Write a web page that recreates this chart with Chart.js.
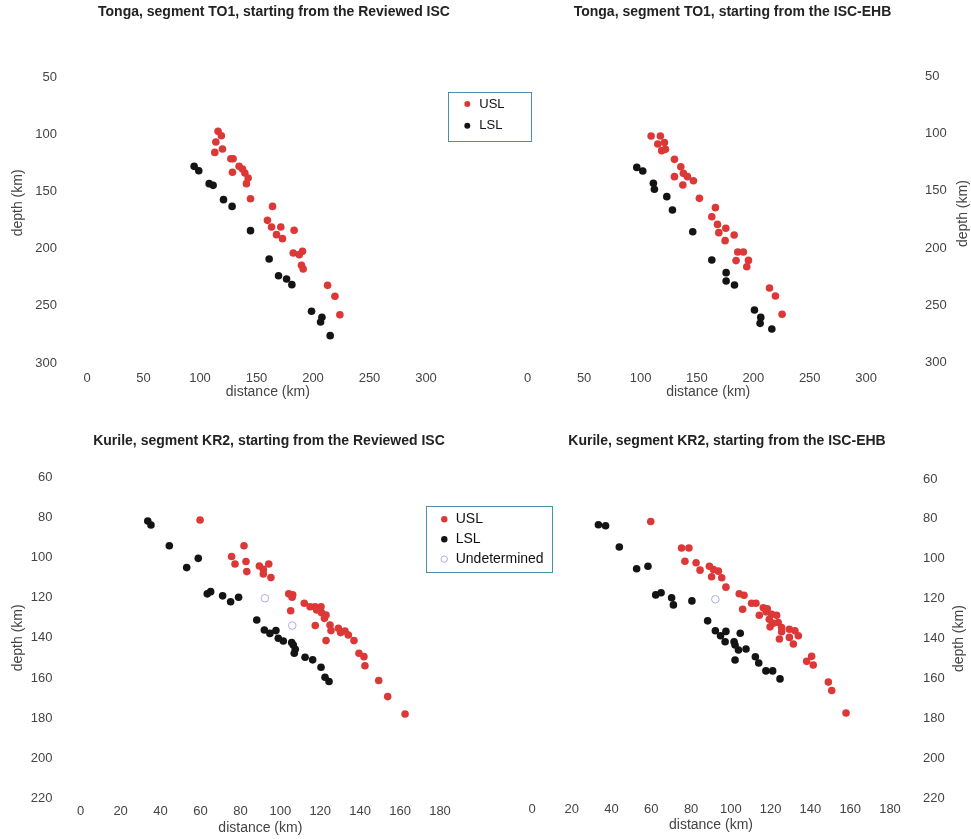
<!DOCTYPE html>
<html>
<head>
<meta charset="utf-8">
<title>Slab seismicity cross-sections</title>
<script src="https://cdn.jsdelivr.net/npm/chart.js@4.4.1/dist/chart.umd.min.js"></script>
<style>
  html, body { margin: 0; padding: 0; background: #ffffff; }
  #wrap { position: relative; width: 971px; height: 839px; overflow: hidden; background: #ffffff; }
  #wrap canvas { position: absolute; left: 0; top: 0; }
</style>
</head>
<body>
<div id="wrap">
  <canvas id="tongaReviewed" width="971" height="839"></canvas>
  <canvas id="tongaEhb" width="971" height="839"></canvas>
  <canvas id="kurileReviewed" width="971" height="839"></canvas>
  <canvas id="kurileEhb" width="971" height="839"></canvas>
</div>
<script>
// ---- tick labels ----
const tongaDistanceTicks = [0, 50, 100, 150, 200, 250, 300];
const tongaDepthTicks = [50, 100, 150, 200, 250, 300];
const kurileDistanceTicks = [0, 20, 40, 60, 80, 100, 120, 140, 160, 180];
const kurileDepthTicks = [60, 80, 100, 120, 140, 160, 180, 200, 220];

// ---- Tonga TO1, Reviewed ISC: [distance km, depth km] ----
const tongaReviewedUSL = [
  [116.0, 97.5], [118.9, 101.3], [114.0, 106.8], [119.9, 112.9], [113.1, 115.9],
  [127.3, 121.4], [129.3, 121.4], [128.7, 133.3], [134.6, 128.1], [137.6, 130.4],
  [139.7, 133.9], [142.6, 138.3], [141.1, 143.2], [144.7, 156.4], [164.2, 163.1],
  [159.7, 175.3], [163.3, 181.1], [171.5, 181.1], [183.3, 184.0], [167.7, 187.8],
  [173.0, 191.3], [182.5, 203.8], [187.8, 205.3], [190.7, 202.4], [189.8, 214.6],
  [191.3, 217.8], [212.9, 232.1], [219.4, 241.7], [223.8, 257.8]
];
const tongaReviewedLSL = [
  [94.8, 128.1], [98.9, 131.9], [108.1, 143.2], [111.6, 144.7], [120.8, 157.2],
  [128.4, 163.1], [144.7, 184.3], [161.2, 209.1], [169.5, 223.7], [176.6, 226.6],
  [181.3, 231.5], [198.7, 254.8], [207.9, 260.1], [206.7, 264.2], [215.2, 276.1]
];

// ---- Tonga TO1, ISC-EHB ----
const tongaEhbUSL = [
  [109.4, 102.3], [117.6, 102.3], [115.3, 109.3], [121.2, 108.1], [118.8, 115.1],
  [122.1, 114.0], [130.1, 122.7], [135.7, 129.1], [130.1, 137.8], [138.0, 134.9],
  [141.6, 137.8], [146.9, 141.3], [137.5, 145.1], [152.2, 156.7], [166.4, 164.8],
  [163.2, 172.7], [168.2, 179.4], [175.6, 182.8], [169.4, 186.6], [183.0, 188.7],
  [175.0, 193.6], [186.2, 203.5], [191.2, 203.5], [184.7, 211.0], [195.7, 210.8],
  [194.2, 216.3], [214.3, 234.9], [219.6, 241.9], [225.5, 257.8]
];
const tongaEhbLSL = [
  [96.7, 129.7], [102.0, 132.8], [111.4, 143.6], [112.3, 148.8], [123.3, 155.2],
  [128.3, 166.9], [146.3, 185.8], [163.2, 210.5], [175.9, 221.5], [175.9, 228.8],
  [183.3, 232.3], [201.0, 254.1], [206.6, 260.5], [206.0, 265.7], [216.4, 270.6]
];

// ---- Kurile KR2, Reviewed ISC ----
const kurileReviewedUSL = [
  [59.8, 81.3], [81.8, 94.1], [75.6, 99.5], [77.3, 103.2], [82.8, 102.0],
  [83.2, 107.0], [89.5, 104.2], [91.5, 105.9], [91.5, 108.2], [94.2, 103.2],
  [95.3, 110.0], [104.2, 118.1], [106.2, 118.6], [105.9, 119.8], [105.2, 126.5],
  [112.0, 122.8], [114.9, 124.5], [117.4, 124.5], [120.4, 124.5], [118.2, 126.1],
  [120.7, 127.5], [122.9, 128.6], [122.1, 130.3], [117.5, 133.9], [124.9, 133.6],
  [125.4, 136.4], [129.1, 135.3], [130.2, 137.4], [132.4, 136.6], [134.1, 138.6],
  [136.9, 141.4], [122.9, 141.4], [139.4, 147.7], [141.9, 149.4], [142.4, 153.9],
  [149.3, 161.3], [153.8, 169.3], [162.5, 178.0]
];
const kurileReviewedLSL = [
  [33.6, 81.8], [35.2, 83.8], [44.4, 94.1], [58.9, 100.4], [53.1, 105.0],
  [63.4, 118.1], [65.1, 117.0], [71.1, 119.1], [75.1, 122.0], [79.1, 119.8],
  [88.2, 131.1], [92.0, 136.1], [94.8, 137.8], [97.8, 136.4], [99.0, 140.2],
  [101.5, 141.6], [105.7, 142.4], [106.5, 143.6], [107.5, 145.7], [107.0, 147.7],
  [112.4, 149.7], [116.2, 151.0], [120.4, 154.7], [122.4, 159.7], [124.4, 161.8]
];
const kurileReviewedUndetermined = [[92.3, 120.3], [106.0, 133.9]];

// ---- Kurile KR2, ISC-EHB ----
const kurileEhbUSL = [
  [59.7, 81.3], [75.2, 94.6], [78.9, 94.6], [76.9, 101.2], [82.5, 102.0],
  [84.5, 105.7], [89.2, 103.7], [91.2, 105.4], [93.7, 106.2], [90.3, 109.0],
  [95.4, 109.5], [97.5, 114.2], [104.2, 117.5], [106.6, 118.3], [105.9, 125.3],
  [110.4, 122.3], [112.6, 122.3], [116.3, 124.5], [118.3, 125.0], [114.3, 128.3],
  [117.7, 126.6], [120.5, 127.8], [123.0, 128.3], [119.3, 130.3], [121.3, 132.3],
  [119.7, 134.1], [123.8, 131.9], [125.5, 134.4], [125.5, 136.6], [129.4, 135.3],
  [132.2, 136.1], [133.9, 138.6], [124.4, 140.2], [129.4, 139.4], [131.4, 142.7],
  [140.6, 148.9], [138.1, 151.4], [141.4, 153.2], [149.0, 161.8], [150.7, 166.0],
  [157.9, 177.3]
];
const kurileEhbLSL = [
  [33.4, 82.9], [37.0, 83.4], [43.9, 94.1], [52.6, 105.0], [58.3, 103.7],
  [62.2, 118.1], [64.9, 117.0], [70.2, 119.5], [71.1, 123.1], [80.4, 121.1],
  [88.3, 131.1], [92.2, 136.1], [97.5, 136.4], [94.8, 138.6], [97.1, 141.6],
  [104.7, 137.3], [101.6, 141.6], [102.1, 143.2], [103.8, 145.7], [107.6, 145.2],
  [102.1, 150.7], [112.3, 149.1], [114.0, 152.2], [117.6, 156.2], [121.0, 156.2],
  [124.7, 160.2]
];
const kurileEhbUndetermined = [[92.2, 120.3]];

// ---- styling ----
const FONT = '"Liberation Sans", Arial, Helvetica, sans-serif';
const TICK_COLOR = '#444444';
const RED = '#dc3838';
const BLACK = '#141414';
const OPEN_RING = '#aab0dc';

const usl = pts => ({ label: 'USL', points: pts, fill: RED, stroke: RED, borderWidth: 0, radius: 3.8 });
const lsl = pts => ({ label: 'LSL', points: pts, fill: BLACK, stroke: BLACK, borderWidth: 0, radius: 3.8 });
const und = pts => ({ label: 'Undetermined', points: pts, fill: 'transparent', stroke: OPEN_RING, borderWidth: 1, radius: 3.8 });

// Bold heading above each panel
const panelTitle = {
  id: 'panelTitle',
  afterDraw(chart, args, o) {
    const ctx = chart.ctx;
    ctx.save();
    ctx.font = `bold ${o.size}px ${FONT}`;
    ctx.fillStyle = '#222222';
    ctx.textAlign = 'center';
    ctx.textBaseline = 'middle';
    ctx.fillText(o.text, o.x, o.y);
    ctx.restore();
  }
};

// Depth axis caption, always reading bottom-to-top on either side
const depthTitle = {
  id: 'depthTitle',
  afterDraw(chart, args, o) {
    const s = chart.scales.y;
    const ctx = chart.ctx;
    const x = o.side === 'left' ? s.left + o.offset : s.right - o.offset;
    const y = (chart.chartArea.top + chart.chartArea.bottom) / 2;
    ctx.save();
    ctx.translate(x, y);
    ctx.rotate(-Math.PI / 2);
    ctx.font = `14px ${FONT}`;
    ctx.fillStyle = TICK_COLOR;
    ctx.textAlign = 'center';
    ctx.textBaseline = 'middle';
    ctx.fillText(o.text, 0, 0);
    ctx.restore();
  }
};

// Framed legend listing the datasets of the chart
const boxLegend = {
  id: 'boxLegend',
  afterDraw(chart, args, o) {
    const ctx = chart.ctx;
    ctx.save();
    ctx.strokeStyle = o.borderColor;
    ctx.lineWidth = 1;
    ctx.strokeRect(o.left + 0.5, o.top + 0.5, o.width, o.height);
    ctx.font = `${o.fontSize}px ${FONT}`;
    ctx.textBaseline = 'middle';
    ctx.textAlign = 'left';
    chart.data.datasets.forEach((ds, i) => {
      const y = o.firstRow + i * o.rowGap;
      ctx.beginPath();
      ctx.arc(o.markerX, y, o.markerRadius, 0, Math.PI * 2);
      if (ds.backgroundColor !== 'transparent') {
        ctx.fillStyle = ds.backgroundColor;
        ctx.fill();
      }
      if (ds.borderWidth) {
        ctx.strokeStyle = ds.borderColor;
        ctx.lineWidth = ds.borderWidth;
        ctx.stroke();
      }
      ctx.fillStyle = '#111111';
      ctx.fillText(ds.label, o.textX, y);
    });
    ctx.restore();
  }
};

const ticksFrom = values => scale => { scale.ticks = values.map(v => ({ value: v })); };

function panel(id, p) {
  const datasets = p.series.map(s => ({
    label: s.label,
    data: s.points.map(([x, y]) => ({ x, y })),
    backgroundColor: s.fill,
    borderColor: s.stroke,
    borderWidth: s.borderWidth,
    pointRadius: s.radius,
    pointHoverRadius: s.radius
  }));
  return new Chart(document.getElementById(id), {
    type: 'scatter',
    data: { datasets },
    options: {
      responsive: false,
      animation: false,
      events: [],
      layout: { padding: p.padding },
      plugins: {
        legend: { display: false },
        tooltip: { enabled: false },
        panelTitle: { text: p.title, x: p.titleX, y: p.titleY, size: 14 },
        depthTitle: { text: 'depth (km)', side: p.ySide, offset: p.yTitleOffset },
        boxLegend: p.legend || false
      },
      scales: {
        x: {
          type: 'linear', position: 'bottom', min: p.xMin, max: p.xMax,
          grid: { display: false, drawTicks: false }, border: { display: false },
          afterBuildTicks: ticksFrom(p.xTicks),
          afterFit: s => { s.height = p.xHeight; },
          ticks: { font: { family: FONT, size: 13 }, color: TICK_COLOR, padding: p.xTickPad, maxRotation: 0, autoSkip: false },
          title: { display: true, text: 'distance (km)', font: { family: FONT, size: 14 }, color: TICK_COLOR, padding: { top: 0, bottom: p.xTitlePad } }
        },
        y: {
          type: 'linear', position: p.ySide, reverse: true, min: p.yMin, max: p.yMax,
          grid: { display: false, drawTicks: false }, border: { display: false },
          afterBuildTicks: ticksFrom(p.yTicks),
          afterFit: s => { s.width = p.yWidth; },
          ticks: { font: { family: FONT, size: 13 }, color: TICK_COLOR, padding: p.yTickPad, autoSkip: false },
          title: { display: false }
        }
      }
    },
    plugins: [panelTitle, depthTitle, boxLegend]
  });
}

panel('tongaReviewed', {
  title: 'Tonga, segment TO1, starting from the Reviewed ISC', titleX: 274, titleY: 12,
  series: [usl(tongaReviewedUSL), lsl(tongaReviewedLSL)],
  xMin: 0, xMax: 320, yMin: 20, yMax: 300, xTicks: tongaDistanceTicks, yTicks: tongaDepthTicks,
  ySide: 'left', yWidth: 87, xHeight: 47, yTickPad: 30, xTickPad: 7.2, xTitlePad: 9.6, yTitleOffset: 18.5,
  padding: { left: 0, right: 522.4, top: 42.7, bottom: 429 },
  legend: { left: 448, top: 92, width: 83, height: 49, borderColor: '#4a93a6', fontSize: 13,
            markerX: 467.3, markerRadius: 3, textX: 479.3, firstRow: 104, rowGap: 21.7 }
});

panel('tongaEhb', {
  title: 'Tonga, segment TO1, starting from the ISC-EHB', titleX: 732.5, titleY: 12,
  series: [usl(tongaEhbUSL), lsl(tongaEhbLSL)],
  xMin: 0, xMax: 320, yMin: 40, yMax: 300, xTicks: tongaDistanceTicks, yTicks: tongaDepthTicks,
  ySide: 'right', yWidth: 82.3, xHeight: 47, yTickPad: 36.3, xTickPad: 7.5, xTitlePad: 9.3, yTitleOffset: 8,
  padding: { left: 527.7, right: 0, top: 64.5, bottom: 429.3 }
});

panel('kurileReviewed', {
  title: 'Kurile, segment KR2, starting from the Reviewed ISC', titleX: 269, titleY: 441,
  series: [usl(kurileReviewedUSL), lsl(kurileReviewedLSL), und(kurileReviewedUndetermined)],
  xMin: 0, xMax: 180, yMin: 60, yMax: 220, xTicks: kurileDistanceTicks, yTicks: kurileDepthTicks,
  ySide: 'left', yWidth: 80.7, xHeight: 40.7, yTickPad: 28.2, xTickPad: 5.6, xTitlePad: 2.9, yTitleOffset: 18,
  padding: { left: 0, right: 531, top: 477.3, bottom: 0 },
  legend: { left: 426, top: 506, width: 126, height: 66, borderColor: '#4a93a6', fontSize: 14,
            markerX: 444.3, markerRadius: 3.2, textX: 455.7, firstRow: 519.3, rowGap: 19.9 }
});

panel('kurileEhb', {
  title: 'Kurile, segment KR2, starting from the ISC-EHB', titleX: 727, titleY: 441,
  series: [usl(kurileEhbUSL), lsl(kurileEhbLSL), und(kurileEhbUndetermined)],
  xMin: 0, xMax: 180, yMin: 60, yMax: 220, xTicks: kurileDistanceTicks, yTicks: kurileDepthTicks,
  ySide: 'right', yWidth: 81, xHeight: 39, yTickPad: 33, xTickPad: 3.9, xTitlePad: 3.6, yTitleOffset: 12,
  padding: { left: 532, right: 0, top: 479, bottom: 0 }
});
</script>
</body>
</html>
